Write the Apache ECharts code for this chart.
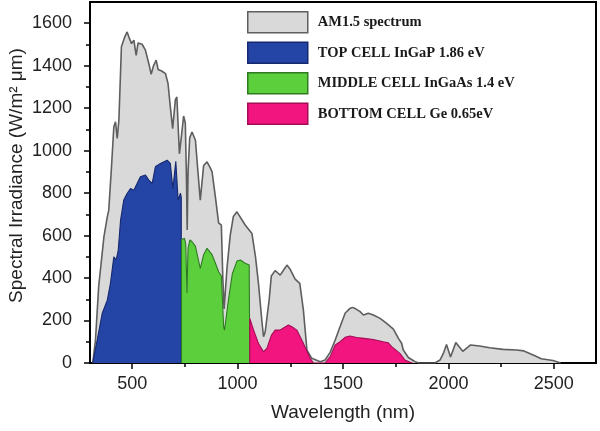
<!DOCTYPE html>
<html><head><meta charset="utf-8">
<script src="https://cdn.jsdelivr.net/npm/echarts@6/dist/echarts.min.js"></script>
<style>html,body{margin:0;padding:0;background:#fff}#c{width:600px;height:431px}</style>
</head><body><div id="c"></div>
<script>
// AM1.5 spectrum (wavelength nm, irradiance W/m2 um)
const amWl  = [313,326,341,366,382,389,402,413,421,429,437,449,465,476,484,497,508,519,528,547,563,579,590,602,614,623,640,658,670,681,692,705,712,724,735,744,752,757,761,765,773,784,800,812,823,839,855,870,879,895,910,923,930,936,950,965,980,997,1036,1068,1085,1099,1115,1123,1131,1139,1150,1160,1178,1190,1202,1220,1234,1250,1273,1295,1312,1329,1352,1392,1415,1439,1463,1486,1510,1533,1545,1557,1581,1597,1620,1644,1676,1707,1739,1763,1778,1786,1810,1842,1860,1936,1960,1976,1991,2010,2035,2068,2105,2148,2196,2259,2323,2358,2410,2440,2496,2532];
const amVal = [0,108,359,594,688,720,924,1112,1136,1057,1143,1489,1536,1559,1536,1504,1520,1449,1507,1501,1473,1410,1360,1402,1426,1382,1375,1363,1316,1206,1104,1240,1253,985,1080,1163,1130,900,626,900,1060,1088,1049,900,767,930,947,920,900,780,660,649,400,255,450,600,690,712,650,610,500,375,200,124,147,155,300,410,435,425,414,440,461,440,395,375,250,61,22,6,14,50,108,171,234,257,262,257,242,226,234,226,210,187,160,116,93,61,26,6,0,0,14,45,87,28,96,55,85,80,72,64,61,57,34,20,12,0];
// Top cell InGaP
const topWl  = [313,334,358,382,397,413,424,434,445,460,476,492,508,524,539,563,579,595,610,634,666,681,693,707,718,725,729,733,733];
const topVal = [0,108,234,296,375,500,485,532,673,767,798,822,814,846,877,885,861,846,924,940,955,940,820,950,767,759,800,780,0];
// Middle cell InGaAs
const midWl  = [734,734,748,754,760,765,774,784,800,823,839,855,863,879,895,910,923,934,938,957,975,997,1013,1036,1055,1058,1058];
const midVal = [0,580,587,560,330,540,580,571,550,445,510,540,532,510,470,430,410,170,155,300,420,480,485,470,461,461,0];
// Bottom cell Ge
const botWl  = [1058,1058,1076,1100,1123,1139,1160,1178,1202,1241,1260,1281,1312,1344,1360,1415,1439,1463,1486,1510,1533,1565,1600,1644,1691,1715,1731,1770,1794,1818,1830];
const botVal = [0,210,155,90,53,69,130,155,155,179,170,155,93,22,0,0,30,85,100,121,127,120,116,111,100,95,77,45,14,3,0];

const names = ['AM1.5 spectrum','TOP CELL InGaP 1.86 eV','MIDDLE CELL InGaAs 1.4 eV','BOTTOM CELL Ge 0.65eV'];
const xTicks = [500,1000,1500,2000,2500];
const xMinor = [750,1250,1750,2250];
const yTicks = [0,200,400,600,800,1000,1200,1400,1600];
const yMinor = [100,300,500,700,900,1100,1300,1500];

const fills = ['#d9d9d9','#2445a6','#5ccf3c','#f21580'];
const edges = ['#5e5e5e','#16286e','#2f7a22','#a30d55'];
const pairs = (w,v) => w.map((x,i)=>[x,v[i]]);
const sets = [pairs(amWl,amVal),pairs(topWl,topVal),pairs(midWl,midVal),pairs(botWl,botVal)];

const chart = echarts.init(document.getElementById('c'));
const labelFont = {fontFamily:'Liberation Sans, Arial, sans-serif', fontSize:18, color:'#222', formatter:v=>String(v)};
chart.setOption({
  animation:false,
  backgroundColor:'#fff',
  grid:{left:90,right:4,top:2,bottom:68,containLabel:false,outerBoundsMode:'none',show:true,borderColor:'#000',borderWidth:2,backgroundColor:'transparent'},
  legend:{
    orient:'vertical', left:247, top:11, padding:0, itemWidth:60, itemHeight:21, itemGap:8, icon:'rect',
    textStyle:{fontFamily:'Liberation Serif, Times New Roman, serif', fontWeight:'bold', fontSize:14.5, color:'#1a1a1a', padding:[0,0,0,5]},
    data: names.map((n,i)=>({name:n, icon:'rect', itemStyle:{color:fills[i], borderColor:edges[i], borderWidth:1.5}}))
  },
  xAxis:[{
    type:'value', min:300, max:2700,
    axisLine:{lineStyle:{color:'#000',width:2}},
    axisTick:{customValues:xTicks, length:6, lineStyle:{color:'#000',width:1.5}},
    axisLabel:Object.assign({customValues:xTicks, margin:12}, labelFont),
    splitLine:{show:false},
    name:'Wavelength (nm)', nameLocation:'middle', nameGap:40, nameMoveOverlap:false,
    nameTextStyle:{fontFamily:'Liberation Sans, Arial, sans-serif', fontSize:19, color:'#222'}
  },{
    type:'value', min:300, max:2700, position:'bottom',
    axisLine:{show:false},
    axisTick:{customValues:xMinor, length:4, lineStyle:{color:'#000',width:1.5}},
    axisLabel:{show:false}, splitLine:{show:false}
  }],
  yAxis:[{
    type:'value', min:0, max:1700,
    axisLine:{show:true, lineStyle:{color:'#000',width:2}},
    axisTick:{show:true, customValues:yTicks, length:6, lineStyle:{color:'#000',width:1.5}},
    axisLabel:Object.assign({customValues:yTicks, margin:18}, labelFont),
    splitLine:{show:false},
    name:'Spectral Irradiance (W/m² μm)', nameLocation:'middle', nameGap:64, nameMoveOverlap:false,
    nameTextStyle:{fontFamily:'Liberation Sans, Arial, sans-serif', fontSize:19, color:'#222', padding:[0,0,0,14]}
  },{
    type:'value', min:0, max:1700, position:'left',
    axisLine:{show:false},
    axisTick:{show:true, customValues:yMinor, length:4, lineStyle:{color:'#000',width:1.5}},
    axisLabel:{show:false}, splitLine:{show:false}
  }],
  series: names.map((n,i)=>({
    name:n, type:'line', data:sets[i], xAxisIndex:0, yAxisIndex:0,
    showSymbol:false, symbol:'none', smooth:false, color:fills[i],
    lineStyle:{color:edges[i], width:i===0?1.6:1.1},
    areaStyle:{color:fills[i], opacity:1},
    z:2+i
  }))
});
</script></body></html>
